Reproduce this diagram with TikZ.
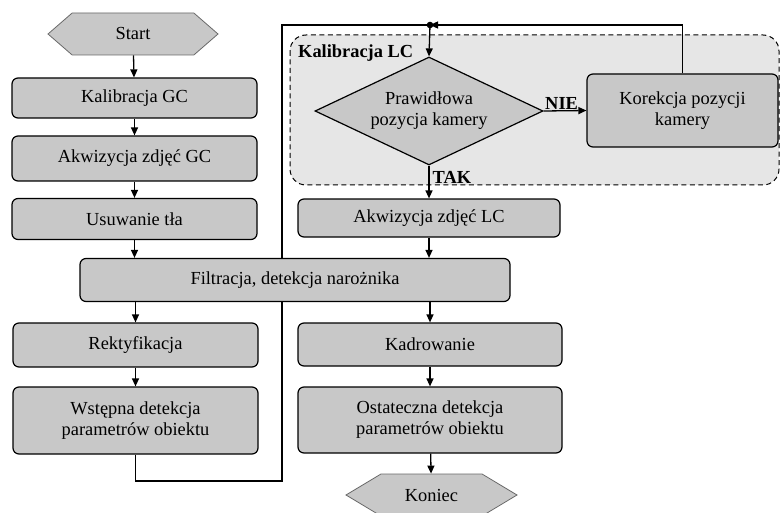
\documentclass[tikz,border=0pt]{standalone}
\usepackage{fontspec}
\setmainfont{Liberation Serif}
\usetikzlibrary{shapes.geometric,shapes.symbols,arrows.meta,backgrounds}

\definecolor{boxgray}{RGB}{200,200,200}
\definecolor{groupgray}{RGB}{230,230,230}
\definecolor{hexedge}{RGB}{105,105,105}

\tikzset{
    txt/.style={font=\fontsize{18.4pt}{21pt}\selectfont},
    blok/.style={txt, draw=black, line width=1.2pt, fill=boxgray, rounded corners=6pt,
        align=center, inner sep=1pt},
    term/.style={txt, shape=signal, signal to=west and east, draw=hexedge, line width=0.8pt,
        fill=boxgray, inner sep=0pt},
    decyzja/.style={txt, shape=diamond, aspect=2.1, draw=black, line width=1.2pt,
        fill=boxgray, align=center, inner sep=0pt, minimum width=228pt, minimum height=108pt},
    etykieta/.style={txt, font=\fontsize{18.4pt}{21pt}\selectfont\bfseries, inner sep=1pt},
    linia/.style={line width=1.3pt},
    strz/.style={linia, -{Triangle[length=8pt,width=7pt]}}
}

\begin{document}
\begin{tikzpicture}[x=1pt,y=-1pt]
    \useasboundingbox (0,0) rectangle (781,513);

    % lewa kolumna
    \node[term, signal pointer angle=82, minimum width=170pt, minimum height=42pt] (start) at (133,34) {Start};
    \node[blok, minimum width=245pt, minimum height=40pt] (kalgc) at (134.5,98) {Kalibracja GC};
    \node[blok, minimum width=245pt, minimum height=45pt] (akwgc) at (134.5,158.5) {Akwizycja zdjęć GC};
    \node[blok, minimum width=245pt, minimum height=41pt] (usun) at (134.5,219) {Usuwanie tła};
    \node[blok, minimum width=430pt, minimum height=43pt] (filtr) at (295,280) {Filtracja, detekcja narożnika};
    \node[blok, minimum width=245pt, minimum height=44pt] (rekt) at (135.5,345) {Rektyfikacja};
    \node[blok, minimum width=245pt, minimum height=67pt] (wstep) at (135.5,420.5) {Wstępna detekcja\\parametrów obiektu};

    % prawa kolumna
    \node[decyzja] (poz) at (429,111) {Prawidłowa\\pozycja kamery};
    \node[blok, minimum width=191pt, minimum height=73pt] (korek) at (682.5,110.5) {Korekcja pozycji\\kamery};
    \node[blok, minimum width=262pt, minimum height=38pt] (akwlc) at (429,218) {Akwizycja zdjęć LC};
    \node[blok, minimum width=264pt, minimum height=43pt] (kadr) at (430,344.5) {Kadrowanie};
    \node[blok, minimum width=264pt, minimum height=66pt] (ostat) at (430,420) {Ostateczna detekcja\\parametrów obiektu};
    \node[term, signal pointer angle=62, minimum width=171pt, minimum height=42pt] (koniec) at (431.5,495) {Koniec};

    \coordinate (jn) at (430,25);

    \begin{scope}[on background layer]
        \draw[dashed, dash pattern=on 5pt off 3.5pt, line width=1pt, fill=groupgray, rounded corners=16pt]
            (290,35) rectangle (779,185);
        \draw[linia] (wstep.south) |- (282,481) |- (jn);
    \end{scope}
    \node[etykieta, anchor=west] (grupa) at (297,53) {Kalibracja LC};

    \draw[strz] (start) -- (kalgc);
    \draw[strz] (kalgc) -- (akwgc);
    \draw[strz] (akwgc) -- (usun);
    \draw[strz] (usun.south) -- (usun.south |- filtr.north);
    \draw[strz] (rekt.north |- filtr.south) -- (rekt.north);
    \draw[strz] (rekt) -- (wstep);

    \draw[strz] (korek.north) |- (jn);
    \fill (jn) circle (3.3pt);
    \draw[strz] (jn) -- (poz.north);
    \draw[strz] (poz.east) -- node[etykieta, pos=0.42, above] {NIE} (korek.west);
    \draw[strz] (poz.south) -- node[etykieta, pos=0.35, right=2pt] {TAK} (akwlc.north);
    \draw[strz] (akwlc.south) -- (akwlc.south |- filtr.north);
    \draw[strz] (kadr.north |- filtr.south) -- (kadr.north);
    \draw[strz] (kadr) -- (ostat);
    \draw[strz] (ostat) -- (koniec);
\end{tikzpicture}
\end{document}
